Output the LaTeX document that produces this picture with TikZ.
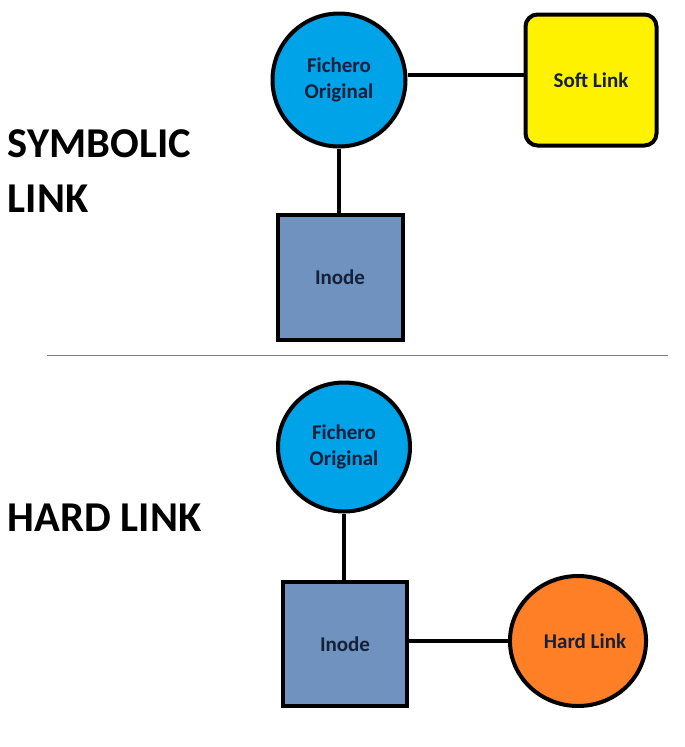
\documentclass[tikz,border=0pt]{standalone}
\usepackage{fontspec}
\setsansfont{Carlito}
\usetikzlibrary{shapes.geometric}
\definecolor{ficheroBlue}{RGB}{0,162,232}
\definecolor{softYellow}{RGB}{255,242,0}
\definecolor{inodeBlue}{RGB}{112,146,190}
\definecolor{hardOrange}{RGB}{255,127,39}
\definecolor{labelNavy}{RGB}{22,32,58}

\tikzset{every picture/.style={line width=4pt}}
\tikzset{
  nodetext/.style={font=\sffamily\bfseries\fontsize{21}{26}\selectfont, text=labelNavy, align=center, inner sep=0pt, line width=4pt, draw=black},
  heading/.style={font=\sffamily\bfseries\fontsize{42.5}{55}\selectfont, align=left, inner sep=0pt, anchor=north west},
}

\begin{document}
\begin{tikzpicture}[x=1pt,y=1pt,yscale=-1,xscale=1]
	\useasboundingbox (0,0) rectangle (685,747);
	
	% Text Node
	\node (symlabel) [heading] at (6,128) {SYMBOLIC\\LINK};
	% Text Node
	\node (hardlabel) [heading] at (6,502) {HARD LINK};
	
	%Straight Lines [id:separator] 
	\coordinate (sepL) at (47,355);
	\coordinate (sepR) at (668,355);
	\draw [line width=0.8pt, color=gray] (sepL) -- (sepR);
	
	%Shape: Circle [id:fichA] 
	\node (fichA) [nodetext, circle, fill=ficheroBlue, minimum size=133pt] at (339,80) {Fichero\\Original};
	%Rounded Rect [id:softA] 
	\node (softA) [nodetext, rectangle, rounded corners=12pt, fill=softYellow, minimum size=131pt] at (591,80) {Soft Link};
	%Shape: Square [id:inodeA] 
	\node (inodeA) [nodetext, rectangle, fill=inodeBlue, minimum size=125pt] at (340,277) {Inode};
	
	%Shape: Ellipse [id:fichB] 
	\node (fichB) [nodetext, ellipse, fill=ficheroBlue, minimum width=132pt, minimum height=129pt] at (344,447) {Fichero\\Original};
	%Shape: Square [id:inodeB] 
	\node (inodeB) [nodetext, rectangle, fill=inodeBlue, minimum size=124pt] at (345,644) {Inode};
	%Shape: Ellipse [id:hardB] 
	\node (hardB) [nodetext, ellipse, fill=hardOrange, minimum width=134pt, minimum height=130pt] at (578,641) {\hspace{14pt}Hard Link};
	
	%Straight Lines 
	\draw ([yshift=-5pt]fichA.east) -- ([yshift=-5pt]softA.west);
	\draw (fichA.south) -- (fichA.south |- inodeA.north);
	\draw (fichB.south) -- (fichB.south |- inodeB.north);
	\draw (inodeB.east |- hardB.west) -- (hardB.west);
	
\end{tikzpicture}
\end{document}
